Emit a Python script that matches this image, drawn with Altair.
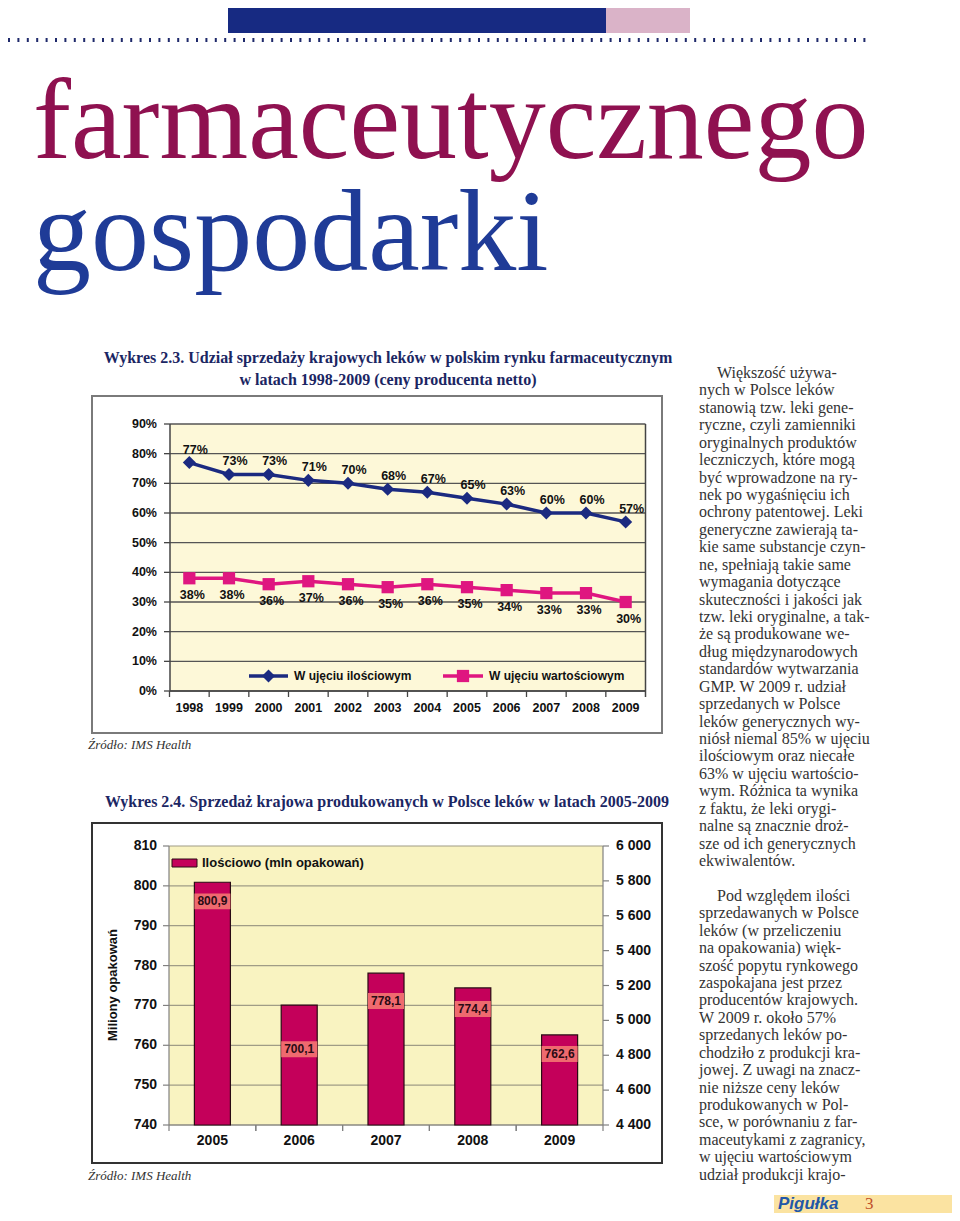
import altair as alt
import pandas as pd

# ---------------- data ----------------
years1 = ["1998", "1999", "2000", "2001", "2002", "2003", "2004", "2005", "2006", "2007", "2008", "2009"]
share_qty = [77, 73, 73, 71, 70, 68, 67, 65, 63, 60, 60, 57]
share_val = [38, 38, 36, 37, 36, 35, 36, 35, 34, 33, 33, 30]
pct_ticks = [0, 10, 20, 30, 40, 50, 60, 70, 80, 90]

years2 = ["2005", "2006", "2007", "2008", "2009"]
packs = [800.9, 770.1, 778.1, 774.4, 762.6]
pack_labels = ["800,9", "700,1", "778,1", "774,4", "762,6"]
pack_label_at = [796.1, 759.0, 771.1, 769.1, 757.8]
left_ticks = [740, 750, 760, 770, 780, 790, 800, 810]
right_ticks = [4400, 4600, 4800, 5000, 5200, 5400, 5600, 5800, 6000]
right_tick_labels = ["4 400", "4 600", "4 800", "5 000", "5 200", "5 400", "5 600", "5 800", "6 000"]

title_1 = "farmaceutycznego"
title_2 = "gospodarki"
chart1_title = ["Wykres 2.3. Udział sprzedaży krajowych leków w polskim rynku farmaceutycznym",
                "w latach 1998-2009 (ceny producenta netto)"]
chart2_title = "Wykres 2.4. Sprzedaż krajowa produkowanych w Polsce leków w latach 2005-2009"
legend1 = ["W ujęciu ilościowym", "W ujęciu wartościowym"]
legend2 = "Ilościowo (mln opakowań)"
axis2_title = "Miliony opakowań"
source = "Źródło: IMS Health"

para1 = [
    "Większość używa-",
    "nych w Polsce leków",
    "stanowią tzw. leki gene-",
    "ryczne, czyli zamienniki",
    "oryginalnych produktów",
    "leczniczych, które mogą",
    "być wprowadzone na ry-",
    "nek po wygaśnięciu ich",
    "ochrony patentowej. Leki",
    "generyczne zawierają ta-",
    "kie same substancje czyn-",
    "ne, spełniają takie same",
    "wymagania dotyczące",
    "skuteczności i jakości jak",
    "tzw. leki oryginalne, a tak-",
    "że są produkowane we-",
    "dług międzynarodowych",
    "standardów wytwarzania",
    "GMP. W 2009 r. udział",
    "sprzedanych w Polsce",
    "leków generycznych wy-",
    "niósł niemal 85% w ujęciu",
    "ilościowym oraz niecałe",
    "63% w ujęciu wartościo-",
    "wym. Różnica ta wynika",
    "z faktu, że leki orygi-",
    "nalne są znacznie droż-",
    "sze od ich generycznych",
    "ekwiwalentów.",
]
para2 = [
    "Pod względem ilości",
    "sprzedawanych w Polsce",
    "leków (w przeliczeniu",
    "na opakowania) więk-",
    "szość popytu rynkowego",
    "zaspokajana jest przez",
    "producentów krajowych.",
    "W 2009 r. około 57%",
    "sprzedanych leków po-",
    "chodziło z produkcji kra-",
    "jowej. Z uwagi na znacz-",
    "nie niższe ceny leków",
    "produkowanych w Pol-",
    "sce, w porównaniu z far-",
    "maceutykami z zagranicy,",
    "w ujęciu wartościowym",
    "udział produkcji krajo-",
]
footer_brand = "Pigułka"
footer_page = "3"

# ---------------- styling ----------------
NAVY = "#1b2a80"
MAGENTA = "#df1680"
BAR = "#c4005a"
SANS = "Liberation Sans"
SERIF = "Liberation Serif"


def P(v):  # page pixel -> canvas pixel (8px page margin)
    return v - 8


def one():
    return pd.DataFrame({"a": [0]})


def txt(s, x, y, **kw):
    return alt.Chart(pd.DataFrame({"t": [s]})).mark_text(**kw).encode(
        text="t:N", x=alt.value(P(x)), y=alt.value(P(y)))


def rect(x1, x2, y1, y2, **kw):
    return alt.Chart(one()).mark_rect(**kw).encode(
        x=alt.value(P(x1)), x2=alt.value(P(x2)), y=alt.value(P(y1)), y2=alt.value(P(y2)))


def rule(x1, x2, y1, y2, **kw):
    return alt.Chart(one()).mark_rule(**kw).encode(
        x=alt.value(P(x1)), x2=alt.value(P(x2)), y=alt.value(P(y1)), y2=alt.value(P(y2)))


layers = []

# ---------------- header ----------------
layers.append(rect(228, 606, 8, 33, fill="#172a82"))
layers.append(rect(606, 690, 8, 33, fill="#dab3c8"))
layers.append(rule(8, 872, 40, 40, color="#1f2a6b", strokeWidth=4, strokeDash=[2, 7.4]))
layers.append(txt(title_1, 33, 158, font=SERIF, fontSize=114, color="#8f1150",
                  align="left", baseline="alphabetic"))
layers.append(txt(title_2, 33, 270, font=SERIF, fontSize=116, color="#1f3b97",
                  align="left", baseline="alphabetic"))

# ---------------- chart 1 ----------------
layers.append(txt(chart1_title[0], 388, 358, font=SERIF, fontSize=16, fontWeight="bold",
                  color="#1b2663", align="center", baseline="middle"))
layers.append(txt(chart1_title[1], 388, 380, font=SERIF, fontSize=16, fontWeight="bold",
                  color="#1b2663", align="center", baseline="middle"))
layers.append(rect(92, 662, 396, 733, fill="white", stroke="#7a7a7a", strokeWidth=2))
layers.append(rect(170, 645.5, 424, 691, fill="#fdf8d8"))

X1_RANGE = [P(169.5), P(645.5)]
sx1 = alt.Scale(type="point", domain=years1, range=X1_RANGE, padding=0.5)
sx1b = alt.Scale(type="band", domain=years1, range=X1_RANGE, paddingInner=0, paddingOuter=0)
sy1 = alt.Scale(domain=[0, 90], range=[P(691), P(424)], zero=False, nice=False)

df_pct = pd.DataFrame({"v": pct_ticks, "lbl": [f"{t}%" for t in pct_ticks]})
df1 = pd.DataFrame({"year": years1, "qty": share_qty, "val": share_val})
df1["qty_lbl"] = df1["qty"].astype(str) + "%"
df1["val_lbl"] = df1["val"].astype(str) + "%"

layers.append(alt.Chart(df_pct).mark_rule(color="#555555", strokeWidth=1.3).encode(
    y=alt.Y("v:Q", scale=sy1, axis=None), x=alt.value(P(170)), x2=alt.value(P(645.5))))
layers.append(alt.Chart(df_pct).mark_rule(color="#444444", strokeWidth=1.3).encode(
    y=alt.Y("v:Q", scale=sy1, axis=None), x=alt.value(P(164)), x2=alt.value(P(170))))
layers.append(alt.Chart(df_pct).mark_text(font=SANS, fontSize=12.5, fontWeight="bold",
                                          align="right", baseline="middle", color="#111").encode(
    y=alt.Y("v:Q", scale=sy1, axis=None), x=alt.value(P(157)), text="lbl:N"))
layers.append(rule(170, 170, 424, 691, color="#444444", strokeWidth=1.5))
layers.append(rule(645.5, 645.5, 424, 697, color="#444444", strokeWidth=1.5))
layers.append(rule(170, 645.5, 691, 691, color="#444444", strokeWidth=1.5))
layers.append(alt.Chart(df1).mark_rule(color="#444444", strokeWidth=1.3).encode(
    x=alt.X("year:N", scale=sx1b, axis=None, bandPosition=0),
    y=alt.value(P(691)), y2=alt.value(P(697))))
layers.append(alt.Chart(df1).mark_text(font=SANS, fontSize=12.5, fontWeight="bold",
                                       baseline="middle", color="#111").encode(
    x=alt.X("year:N", scale=sx1, axis=None), y=alt.value(P(708)), text="year:N"))

layers.append(alt.Chart(df1).mark_line(color=NAVY, strokeWidth=3.5).encode(
    x=alt.X("year:N", scale=sx1, axis=None), y=alt.Y("qty:Q", scale=sy1, axis=None)))
layers.append(alt.Chart(df1).mark_point(shape="diamond", filled=True, size=170, color=NAVY,
                                        opacity=1).encode(
    x=alt.X("year:N", scale=sx1, axis=None), y=alt.Y("qty:Q", scale=sy1, axis=None)))
layers.append(alt.Chart(df1).mark_line(color=MAGENTA, strokeWidth=3.5).encode(
    x=alt.X("year:N", scale=sx1, axis=None), y=alt.Y("val:Q", scale=sy1, axis=None)))
layers.append(alt.Chart(df1).mark_point(shape="square", filled=True, size=150, color=MAGENTA,
                                        opacity=1).encode(
    x=alt.X("year:N", scale=sx1, axis=None), y=alt.Y("val:Q", scale=sy1, axis=None)))
layers.append(alt.Chart(df1).mark_text(font=SANS, fontSize=12.5, fontWeight="bold", dx=6, dy=-13,
                                       baseline="middle", color="#111").encode(
    x=alt.X("year:N", scale=sx1, axis=None), y=alt.Y("qty:Q", scale=sy1, axis=None),
    text="qty_lbl:N"))
layers.append(alt.Chart(df1).mark_text(font=SANS, fontSize=12.5, fontWeight="bold", dx=3, dy=17,
                                       baseline="middle", color="#111").encode(
    x=alt.X("year:N", scale=sx1, axis=None), y=alt.Y("val:Q", scale=sy1, axis=None),
    text="val_lbl:N"))

# legend 1
layers.append(rule(249, 288, 676, 676, color=NAVY, strokeWidth=3.5))
layers.append(alt.Chart(one()).mark_point(shape="diamond", filled=True, size=170, color=NAVY,
                                          opacity=1).encode(x=alt.value(P(268.5)), y=alt.value(P(676))))
layers.append(txt(legend1[0], 294, 676, font=SANS, fontSize=12, fontWeight="bold",
                  align="left", baseline="middle", color="#111"))
layers.append(rule(443, 483, 676, 676, color=MAGENTA, strokeWidth=3.5))
layers.append(alt.Chart(one()).mark_point(shape="square", filled=True, size=150, color=MAGENTA,
                                          opacity=1).encode(x=alt.value(P(463)), y=alt.value(P(676))))
layers.append(txt(legend1[1], 489, 676, font=SANS, fontSize=12, fontWeight="bold",
                  align="left", baseline="middle", color="#111"))
layers.append(txt(source, 88, 745, font=SERIF, fontSize=13, fontStyle="italic",
                  align="left", baseline="middle", color="#333"))

# ---------------- chart 2 ----------------
layers.append(txt(chart2_title, 387, 802, font=SERIF, fontSize=16, fontWeight="bold",
                  color="#1b2663", align="center", baseline="middle"))
layers.append(rect(92, 662, 823, 1163, fill="white", stroke="#333333", strokeWidth=2))
layers.append(rect(169, 603, 846, 1125, fill="#f9f3c1"))

X2_RANGE = [P(169), P(603)]
sx2 = alt.Scale(type="band", domain=years2, range=X2_RANGE, paddingInner=0.585, paddingOuter=0.2925)
sx2g = alt.Scale(type="band", domain=years2, range=X2_RANGE, paddingInner=0, paddingOuter=0)
sy2 = alt.Scale(domain=[740, 810], range=[P(1125), P(846)], zero=False, nice=False)
sy2r = alt.Scale(domain=[4400, 6000], range=[P(1125), P(846)], zero=False, nice=False)

df_l = pd.DataFrame({"v": left_ticks})
df_r = pd.DataFrame({"v": right_ticks, "lbl": right_tick_labels})
df2 = pd.DataFrame({"year": years2, "packs": packs, "lbl": pack_labels, "at": pack_label_at})
df2["lo"] = df2["at"] - 2.0
df2["hi"] = df2["at"] + 2.0

layers.append(alt.Chart(df_l).mark_rule(color="#a09c86", strokeWidth=1.2).encode(
    y=alt.Y("v:Q", scale=sy2, axis=None), x=alt.value(P(169)), x2=alt.value(P(603))))
layers.append(alt.Chart(df_l).mark_rule(color="#808080", strokeWidth=1.2).encode(
    y=alt.Y("v:Q", scale=sy2, axis=None), x=alt.value(P(163)), x2=alt.value(P(169))))
layers.append(alt.Chart(df_l).mark_text(font=SANS, fontSize=14, fontWeight="bold",
                                        align="right", baseline="middle", color="#111").encode(
    y=alt.Y("v:Q", scale=sy2, axis=None), x=alt.value(P(157)), text="v:N"))
layers.append(alt.Chart(df_r).mark_rule(color="#808080", strokeWidth=1.2).encode(
    y=alt.Y("v:Q", scale=sy2r, axis=None), x=alt.value(P(603)), x2=alt.value(P(609))))
layers.append(alt.Chart(df_r).mark_text(font=SANS, fontSize=14, fontWeight="bold",
                                        align="left", baseline="middle", color="#111").encode(
    y=alt.Y("v:Q", scale=sy2r, axis=None), x=alt.value(P(616)), text="lbl:N"))
layers.append(rule(169, 169, 846, 1125, color="#808080", strokeWidth=1.2))
layers.append(rule(603, 603, 846, 1125, color="#808080", strokeWidth=1.2))
layers.append(rule(169, 603, 1125, 1125, color="#808080", strokeWidth=1.2))
for bp in (0, 1):
    layers.append(alt.Chart(df2).mark_rule(color="#808080", strokeWidth=1.2).encode(
        x=alt.X("year:N", scale=sx2g, axis=None, bandPosition=bp),
        y=alt.value(P(1125)), y2=alt.value(P(1131))))
layers.append(alt.Chart(df2).mark_text(font=SANS, fontSize=14, fontWeight="bold",
                                       baseline="middle", color="#111").encode(
    x=alt.X("year:N", scale=sx2, axis=None), y=alt.value(P(1141)), text="year:N"))

layers.append(alt.Chart(df2).mark_bar(color=BAR, stroke="#2a0a14", strokeWidth=1.2).encode(
    x=alt.X("year:N", scale=sx2, axis=None),
    y=alt.Y("packs:Q", scale=sy2, axis=None), y2=alt.datum(740)))
layers.append(alt.Chart(df2).mark_bar(color="#ef6a6f").encode(
    x=alt.X("year:N", scale=sx2, axis=None),
    y=alt.Y("lo:Q", scale=sy2, axis=None), y2="hi:Q"))
layers.append(alt.Chart(df2).mark_text(font=SANS, fontSize=12, fontWeight="bold",
                                       baseline="middle", color="#2a0a14").encode(
    x=alt.X("year:N", scale=sx2, axis=None), y=alt.Y("at:Q", scale=sy2, axis=None),
    text="lbl:N"))

layers.append(rect(172, 197, 859, 867, fill=BAR, stroke="#2a0a14", strokeWidth=1))
layers.append(txt(legend2, 202, 863, font=SANS, fontSize=13, fontWeight="bold",
                  align="left", baseline="middle", color="#111"))
layers.append(txt(axis2_title, 113, 985, font=SANS, fontSize=13, fontWeight="bold",
                  align="center", baseline="middle", angle=270, color="#111"))
layers.append(txt(source, 88, 1176, font=SERIF, fontSize=13, fontStyle="italic",
                  align="left", baseline="middle", color="#333"))

# ---------------- body text ----------------
rows, texts, firsts = [], [], []
for i, s in enumerate(para1):
    rows.append(i); texts.append(s); firsts.append(1 if i == 0 else 0)
for i, s in enumerate(para2):
    rows.append(len(para1) + 1 + i); texts.append(s); firsts.append(1 if i == 0 else 0)
df_body = pd.DataFrame({"row": rows, "t": texts, "first": firsts})
sy_body = alt.Scale(domain=[0, 46], range=[P(373), P(373 + 46 * 17.43)], zero=False, nice=False)
for flag, xpos in ((1, 717), (0, 699)):
    layers.append(alt.Chart(df_body).transform_filter(alt.datum.first == flag).mark_text(
        font=SERIF, fontSize=16, align="left", baseline="middle", color="#333333").encode(
        y=alt.Y("row:Q", scale=sy_body, axis=None), x=alt.value(P(xpos)), text="t:N"))

# ---------------- footer ----------------
layers.append(rect(774, 952, 1195, 1213, fill="#fbe3a1"))
layers.append(txt(footer_brand, 778, 1204, font=SANS, fontSize=17, fontWeight="bold",
                  fontStyle="italic", align="left", baseline="middle", color="#2257a8"))
layers.append(txt(footer_page, 865, 1204, font=SERIF, fontSize=17, align="left",
                  baseline="middle", color="#c0502a"))

chart = alt.layer(*layers).resolve_scale(x="independent", y="independent").properties(
    width=944, height=1205, padding=0, autosize=alt.AutoSizeParams(type="none"),
    background="white",
).configure_view(strokeWidth=0)

chart.save("out.html", embed_options={"renderer": "svg", "actions": False})
